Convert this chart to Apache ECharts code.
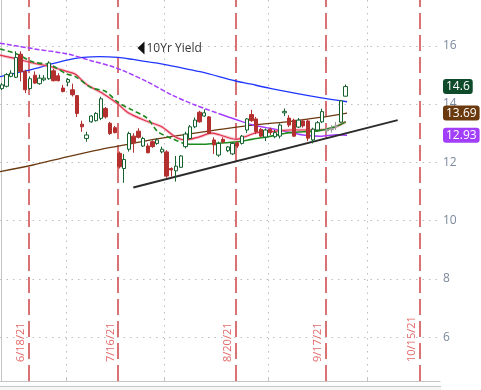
<!DOCTYPE html>
<html><head><meta charset="utf-8">
<script src="https://cdn.jsdelivr.net/npm/echarts@6/dist/echarts.min.js"></script>
<style>html,body{margin:0;padding:0;background:#fff}#c{width:481px;height:390px}</style>
</head><body><div id="c"></div>
<script>
// Trading days (x index = position in this list)
const tradingDates = ['6/11/21','6/14/21','6/15/21','6/16/21','6/17/21','6/18/21','6/21/21','6/22/21','6/23/21','6/24/21','6/25/21','6/28/21','6/29/21','6/30/21',
'7/1/21','7/2/21','7/6/21','7/7/21','7/8/21','7/9/21','7/12/21','7/13/21','7/14/21','7/15/21','7/16/21','7/19/21','7/20/21','7/21/21','7/22/21','7/23/21','7/26/21','7/27/21','7/28/21','7/29/21','7/30/21',
'8/2/21','8/3/21','8/4/21','8/5/21','8/6/21','8/9/21','8/10/21','8/11/21','8/12/21','8/13/21','8/16/21','8/17/21','8/18/21','8/19/21','8/20/21','8/23/21','8/24/21','8/25/21','8/26/21','8/27/21','8/30/21','8/31/21',
'9/1/21','9/2/21','9/3/21','9/7/21','9/8/21','9/9/21','9/10/21','9/13/21','9/14/21','9/15/21','9/16/21','9/17/21','9/20/21','9/21/21','9/22/21','9/23/21','9/24/21','9/27/21','9/28/21','9/29/21','9/30/21',
'10/1/21','10/4/21','10/5/21','10/6/21','10/7/21','10/8/21','10/11/21','10/12/21','10/13/21','10/14/21','10/15/21','10/18/21','10/19/21','10/20/21','10/21/21','10/22/21'];

// [open, close, low, high] for the first trading days
const ohlc = [
[14.53,14.66,14.48,14.72],[14.61,15.01,14.57,15.06],[14.95,15.06,14.92,15.16],[14.92,15.60,14.89,15.81],[15.71,15.12,14.78,15.81],
[15.12,14.49,14.38,15.18],[14.53,14.87,14.49,14.95],[14.99,14.72,14.69,15.12],[14.70,14.89,14.66,15.01],[14.83,14.89,14.78,14.99],
[14.87,15.41,14.83,15.47],[15.14,14.80,14.78,15.21],[14.97,14.80,14.78,15.06],[14.55,14.43,14.40,14.66],[14.75,14.84,14.61,14.89],
[14.49,14.32,14.26,14.70],[14.29,13.68,13.56,14.31],[13.31,13.22,13.05,13.43],[12.82,12.94,12.71,13.05],[13.39,13.59,13.36,13.62],
[13.43,13.68,13.40,13.72],[13.51,14.18,13.45,14.25],[13.85,13.56,13.50,13.90],[13.34,12.99,12.94,13.39],[13.19,13.02,13.00,13.25],
[12.31,11.85,11.79,12.37],[11.79,12.10,11.30,12.29],[12.45,12.99,12.37,13.05],[12.90,12.67,12.33,13.00],[13.07,12.86,12.82,13.17],
[12.56,12.82,12.53,12.88],[12.56,12.33,12.31,12.65],[12.71,12.54,12.50,12.76],[12.65,12.77,12.60,12.82],[12.36,12.45,12.31,12.54],
[12.36,11.53,11.47,12.42],[11.79,11.74,11.51,11.83],[11.71,11.87,11.34,12.22],[11.83,12.22,11.81,12.25],[12.54,12.97,12.48,13.05],
[12.82,13.22,12.79,13.28],[13.22,13.45,13.17,13.54],[13.72,13.39,13.36,13.77],[13.59,13.70,13.56,13.82],[13.56,12.99,12.97,13.59],
[12.77,12.60,12.29,12.86],[12.25,12.65,12.19,12.71],[12.79,12.70,12.65,12.86],[12.40,12.53,12.35,12.56],[12.29,12.65,12.25,12.70],
[12.67,12.56,12.49,12.72],[12.65,12.90,12.61,12.94],[13.11,13.49,13.01,13.52],[13.64,13.43,13.39,13.80],[13.49,13.06,12.97,13.56],
[13.13,12.90,12.87,13.18],[12.87,13.11,12.73,13.16],[13.14,13.02,12.94,13.19],[12.88,13.02,12.83,13.11],[12.90,13.28,12.82,13.34],
[13.70,13.75,13.59,13.85],[13.52,13.28,13.21,13.62],[13.45,12.90,12.87,13.50],[13.21,13.45,13.18,13.52],[13.42,13.25,13.19,13.49],
[13.42,12.83,12.73,13.49],[12.77,13.14,12.65,13.19],[13.11,13.36,13.07,13.42],[13.39,13.74,13.35,13.84],[13.12,13.08,12.97,13.22],
[13.12,13.16,13.02,13.28],[13.22,13.25,13.11,13.39],[13.38,14.11,13.35,14.14],[14.27,14.60,14.26,14.67]];
const grayDays = ['9/20/21','9/21/21','9/22/21'];

// Overlay lines: [trading-day index, value]
const blueLine = [[-0.37,14.94],[6.64,15.20],[10.24,15.36],[13.85,15.51],[17.25,15.60],[20.86,15.63],[24.68,15.60],[27.86,15.53],[31.47,15.44],[33.59,15.39],[42.08,15.11],[49.51,14.80],[52.70,14.69],[56.94,14.54],[67.56,14.22],[73.3,14.08]];
const purpleLine = [[-0.37,16.09],[6.64,15.90],[13.85,15.72],[19.16,15.48],[23.40,15.29],[26.16,15.12],[30.83,14.77],[36.14,14.31],[41.02,13.97],[46.33,13.66],[49.51,13.48],[53.33,13.28],[56.94,13.17],[60.55,13.05],[63.95,12.94],[67.56,12.90],[71.17,12.95],[73.3,12.93]];
const brownLine = [[-0.37,11.68],[6.64,11.91],[13.85,12.19],[20.86,12.44],[27.86,12.65],[33.59,12.82],[42.08,13.03],[46.33,13.13],[53.33,13.28],[60.55,13.39],[67.56,13.54],[73.3,13.69]];
const redLine = [[-0.37,15.68],[3.18,15.55],[6.64,15.41],[10.24,15.29],[13.79,15.12],[15.55,15.03],[18.10,14.66],[21.28,14.38],[24.47,14.03],[26.95,13.69],[30.83,13.41],[33.95,13.22],[36.78,12.88],[38.90,12.77],[41.66,12.86],[44.57,13.00],[46.33,12.94],[49.87,12.79],[51.64,12.88],[54.12,13.02],[56.94,13.05],[61.19,13.11],[67.13,13.11],[70.04,13.17],[73.0,13.39]];
const greenLine = [[-0.37,15.89],[3.18,15.72],[6.70,15.44],[10.24,15.35],[13.79,15.03],[15.55,14.95],[19.16,14.55],[21.98,14.44],[24.83,14.04],[27.65,13.80],[30.83,13.52],[33.17,13.05],[36.08,12.82],[38.90,12.63],[42.45,12.62],[45.27,12.65],[50.15,12.71],[53.06,12.79],[56.52,12.88],[61.19,13.02],[67.13,13.08],[70.74,13.22],[73.0,13.39]];
const trendLine = [[27.93,11.14],[84.05,13.45]];

const yTicks = [6,8,10,12,14,16];
const expiryDates = ['6/18/21','7/16/21','8/20/21','9/17/21','10/15/21'];
const monthStarts = ['7/1/21','8/2/21','9/1/21','10/1/21'];
const badgeValues = [14.6, 13.69, 12.93];
const badgeLabels = ['14.6','13.69','12.93'];
const overlayName = '10Yr Yield';
const overlayLabelAt = [29.56, 15.92];

const FONT = 'Open Sans';
const candleData = ohlc.map((r, i) => {
  const item = { value: [i, r[0], r[1], r[2], r[3]] };
  if (grayDays.includes(tradingDates[i])) {
    item.itemStyle = { color: '#d0d0d0', color0: '#d0d0d0', borderColor: '#9a9a9a', borderColor0: '#9a9a9a' };
  }
  return item;
});
const monthBounds = monthStarts.map(d => tradingDates.indexOf(d) - 0.4);
const expiryLines = expiryDates.map(d => ({ xAxis: tradingDates.indexOf(d) + 0.68, label: { formatter: d } }));

function line(data, color, width, type, z, extra) {
  return Object.assign({ type: 'line', data, symbol: 'none', smooth: 0.3, silent: true,
    lineStyle: { color, width, type }, z }, extra || {});
}
const split = (arr, at) => [arr.filter(p => p[0] <= at), arr.filter(p => p[0] >= at)];
const [purpleA, purpleB] = split(purpleLine, 46.33);
const [greenA, greenB] = split(greenLine, 38.9);

const chart = echarts.init(document.getElementById('c'), null, { renderer: 'canvas' });
chart.setOption({
  animation: false,
  backgroundColor: '#ffffff',
  textStyle: { fontFamily: FONT },
  grid: { left: 0, right: 41, top: 0, bottom: 9, outerBoundsMode: 'none' },
  xAxis: {
    type: 'value', min: -0.37, max: 93.03,
    axisLine: { show: true, onZero: false, lineStyle: { color: '#c4c4c4' } },
    axisTick: { show: true, inside: true, length: 4, customValues: monthBounds, lineStyle: { color: '#c4c4c4' } },
    axisLabel: { show: false },
    splitLine: { show: true, lineStyle: { color: '#bdbdbd', type: [1.5, 5], width: 1 } }
  },
  yAxis: [{
    type: 'value', position: 'right', min: 4.5, max: 17.57, scale: true,
    axisLine: { show: true, lineStyle: { color: '#c4c4c4' } },
    axisTick: { show: true, inside: true, length: 5, customValues: yTicks, lineStyle: { color: '#c4c4c4' } },
    axisLabel: { customValues: yTicks, color: '#7a889c', fontSize: 12, margin: 3, fontFamily: FONT },
    splitLine: { show: true, lineStyle: { color: '#bdbdbd', type: [1.5, 5], width: 1 } }
  }, {
    type: 'value', position: 'right', min: 4.5, max: 17.57, scale: true,
    axisLine: { show: false }, axisTick: { show: false }, splitLine: { show: false },
    axisLabel: {
      customValues: badgeValues, margin: 3,
      formatter: v => { const k = badgeValues.findIndex(b => Math.abs(b - v) < 1e-6); return k < 0 ? '' : '{b' + k + '|' + badgeLabels[k] + '}'; },
      rich: {
        b0: { backgroundColor: '#0f4a2a', color: '#fff', borderRadius: 3, padding: [2, 3, 1, 3], fontSize: 12, fontFamily: FONT },
        b1: { backgroundColor: '#6a3a0e', color: '#fff', borderRadius: 3, padding: [2, 3, 1, 3], fontSize: 12, fontFamily: FONT },
        b2: { backgroundColor: '#a13ffb', color: '#fff', borderRadius: 3, padding: [2, 3, 1, 3], fontSize: 12, fontFamily: FONT }
      }
    }
  }],
  series: [
    line(brownLine, '#6b3a10', 1.3, 'solid', 2),
    line(blueLine, '#1f36ff', 1.3, 'solid', 2, {
      markPoint: {
        silent: true,
        data: [{ coord: overlayLabelAt, symbol: 'triangle', symbolRotate: 90, symbolSize: [13, 7],
          itemStyle: { color: '#111' },
          label: { show: true, position: 'right', distance: 2, formatter: overlayName, color: '#3a3a3a', fontSize: 12, fontFamily: FONT } }]
      }
    }),
    line(purpleA, '#a43cff', 1.5, [5, 2], 2),
    line(purpleB, '#a43cff', 1.5, 'solid', 2),
    line(redLine, 'rgba(240,130,150,0.45)', 3, 'solid', 2),
    line(redLine, '#e0324f', 1.2, 'solid', 3),
    line(greenA, '#1e8a1e', 1.6, [5, 3], 3),
    line(greenB, '#1e8a1e', 1.6, 'solid', 3),
    line(trendLine, '#2b2b2b', 2, 'solid', 4, { smooth: false }),
    {
      type: 'candlestick', data: candleData, encode: { x: 0, y: [1, 2, 3, 4] },
      barWidth: 3.8, z: 5, silent: true,
      itemStyle: { color: '#ffffff', color0: '#b3302f', borderColor: '#15622f', borderColor0: '#b3302f', borderWidth: 1 },
      markLine: {
        silent: true, symbol: 'none', z: 1,
        lineStyle: { color: '#cc4448', type: [16, 6], width: 1.5 },
        label: { show: true, position: 'insideStartTop', distance: [19, 2], color: '#e36a6a', fontSize: 11, fontFamily: FONT },
        data: expiryLines
      }
    }
  ],
  graphic: [
    { type: 'line', shape: { x1: 0, y1: 386.5, x2: 441, y2: 386.5 }, style: { stroke: '#c8c8c8', lineWidth: 1 }, silent: true },
    { type: 'rect', shape: { x: 0, y: 387, width: 441, height: 3 }, style: { fill: '#f6f6f6' }, silent: true }
  ]
});
</script></body></html>
